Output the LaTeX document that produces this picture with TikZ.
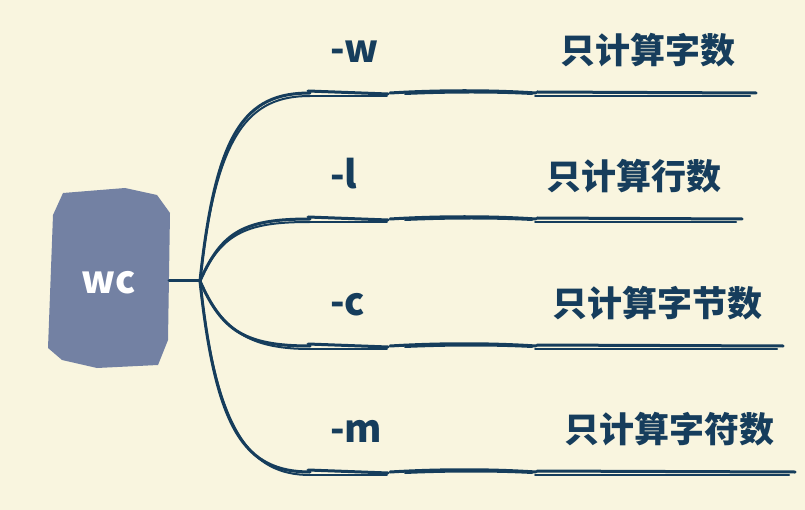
\documentclass[tikz,border=0pt]{standalone}
\usepackage{fontspec}
\setmainfont{Noto Sans CJK SC}
\definecolor{paper}{HTML}{F9F5DF}
\definecolor{ink}{HTML}{163D5C}
\definecolor{slate}{HTML}{7381A3}
\begin{document}
\begin{tikzpicture}[x=1pt, y=-1pt,
    twig/.style={ink, line width=3pt, line cap=round},
    thin twig/.style={ink, line width=2pt, line cap=round},
    opt/.style={ink, font=\fontsize{38}{40}\selectfont\bfseries, inner sep=0pt, anchor=base west},
    desc/.style={ink, font=\fontsize{35}{40}\selectfont\bfseries, inner sep=0pt, anchor=east}]
    \fill[paper] (0,0) rectangle (805,510);
    \useasboundingbox (0,0) rectangle (805,510);
    \fill[slate] (63,193) -- (125,188) -- (157,195) -- (170,213) -- (168,340) -- (158,365)
        -- (97,368) -- (62,360) -- (48,348) -- (53,215) -- cycle;
    \node[white, font=\fontsize{38}{40}\selectfont\bfseries] (wc) at (109,283) {wc};
    \coordinate (box-e) at (169,281);
    \coordinate (hub) at (200,281);
    \draw[twig] (box-e) -- (hub);
    \foreach \i/\y/\xe/\cy/\cx/\opt/\txt in {1/93/756/-150/16/-w/只计算字数,
        2/219/742/-50/22/-l/只计算行数, 3/346/783/50/22/-c/只计算字节数,
        4/472/795/150/16/-m/只计算字符数} {
        \coordinate (s\i) at (310,\y);
        \coordinate (e\i) at (\xe,\y);
        \draw[twig] (hub) .. controls +(\cx,\cy) and +(-65,0) .. (s\i);
        \draw[thin twig] (hub) .. controls +(\cx,\cy) and +(-60,0) .. ([shift={(0,3)}]s\i);
        \draw[twig] ([shift={(-2,-2)}]s\i) -- ([shift={(78,1)}]s\i);
        \draw[thin twig] ([shift={(-1,3)}]s\i) -- ([shift={(77,3)}]s\i);
        \draw[twig] ([shift={(80,0)}]s\i) .. controls ([shift={(130,-3)}]s\i) and ([shift={(180,-3)}]s\i) .. ([shift={(226,0)}]s\i);
        \draw[thin twig] ([shift={(95,1)}]s\i) .. controls ([shift={(140,-1)}]s\i) and ([shift={(185,-1)}]s\i) .. ([shift={(222,1)}]s\i);
        \draw[twig] ([shift={(227,-1)}]s\i) -- (e\i);
        \draw[thin twig] ([shift={(225,3)}]s\i) -- ([shift={(-6,3)}]e\i);
        \node[opt] (o\i) at ([shift={(20,-30)}]s\i) {\opt};
        \node[desc] (d\i) at ([shift={(-20,-43)}]e\i) {\txt};
    }
\end{tikzpicture}
\end{document}
